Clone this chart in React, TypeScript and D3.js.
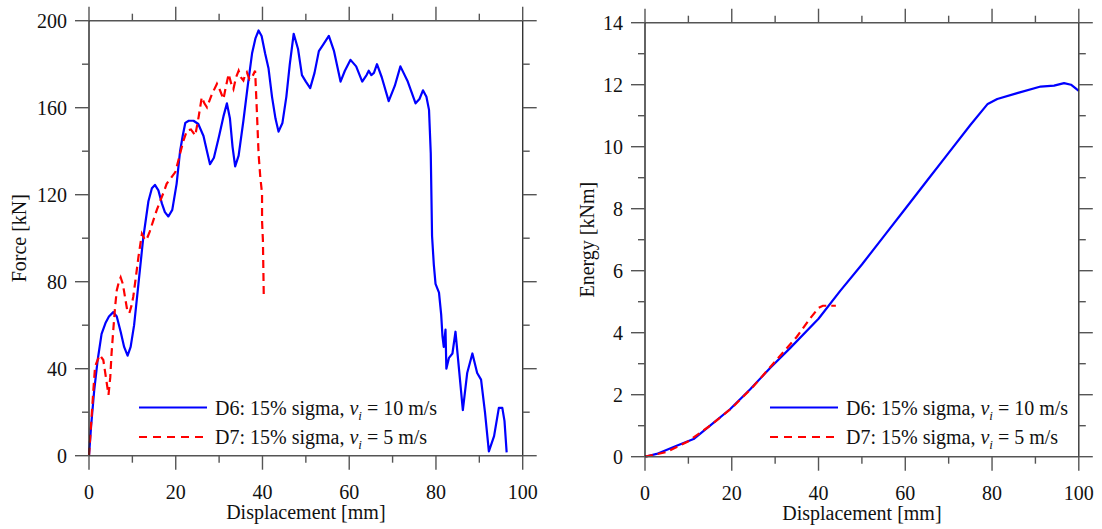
import React from "react";
import * as d3 from "d3";

// ---------- DATA ----------
const forceD6: [number, number][] = [
  [0, 0], [0.5, 14], [1.2, 30], [2, 44], [2.9, 56], [3.8, 61], [4.6, 64], [5.6, 66], [6.4, 64], [7.3, 57],
  [8.1, 50], [8.9, 46], [9.6, 50], [10.4, 60], [11.4, 79], [12.5, 100], [13.7, 117], [14.5, 123], [15.2, 124.5],
  [16, 122], [16.8, 116], [17.5, 112], [18.3, 110], [19.2, 113], [20.2, 125], [21, 140], [21.6, 147], [22.2, 153],
  [23, 154], [24.1, 154], [25.2, 152.5], [26.4, 147], [27.2, 140], [27.9, 134], [28.8, 137], [30, 147], [31, 156],
  [31.8, 162], [32.5, 155], [33.1, 142], [33.7, 133], [34.5, 138], [35.6, 154], [36.6, 170], [37.6, 185], [38.4, 192],
  [39.1, 195.5], [39.8, 193], [40.6, 185], [41.4, 178], [42.2, 165], [43, 155], [43.7, 149], [44.6, 153], [45.5, 165],
  [46.3, 180], [47.2, 194], [48.2, 187], [49.1, 175], [50, 172], [51, 169], [52, 176], [53, 186], [54, 189],
  [55.3, 193], [56.5, 186], [58, 172], [59, 177], [60.3, 182], [61.6, 179], [63, 172], [64, 175], [64.5, 177],
  [65.1, 175], [65.7, 176], [66.4, 180], [67.5, 174], [69.1, 163], [70.5, 170], [71.8, 179], [73.5, 172],
  [75.3, 162], [76.2, 164], [77, 168], [77.8, 165], [78.4, 159], [78.8, 139], [79.1, 101], [79.5, 88], [79.9, 79],
  [80.7, 75], [81.2, 65], [81.5, 55], [81.8, 50], [82.2, 58], [82.4, 40], [83, 45], [83.8, 47], [84.5, 57],
  [85.3, 40], [86.2, 21], [87.2, 38], [88.4, 47], [89.5, 38], [90.4, 35], [91.3, 20], [92.2, 2], [93.4, 9],
  [94.5, 22], [95.3, 22], [95.8, 16], [96.3, 1.5],
];

const forceD7: [number, number][] = [
  [0, 0], [0.5, 15], [1, 30], [1.4, 41], [2, 44], [2.5, 46.3], [3.3, 44], [3.9, 36], [4.5, 28], [4.9, 36],
  [5.2, 47], [5.6, 57.8], [6, 68], [6.4, 76], [6.9, 80], [7.3, 82], [7.8, 79], [8.3, 73], [8.8, 67], [9.3, 65.5],
  [9.8, 69], [10.2, 73], [10.8, 82], [11.4, 91.4], [12.2, 102], [12.7, 100], [13.2, 99], [14, 103], [14.8, 108],
  [15.6, 112.8], [16.4, 117], [17.2, 121], [17.9, 125], [19, 128], [19.9, 130.4], [21, 138.8], [21.8, 145],
  [22.6, 149.5], [23.5, 150], [24.5, 147.2], [25.3, 156], [26, 164.8], [26.6, 162], [27.2, 160.2], [28.3, 166],
  [29.5, 171], [30.2, 168], [31, 164], [31.6, 170], [32.2, 175.5], [32.8, 171], [33.3, 168.6], [33.9, 174],
  [34.5, 177], [35, 174], [35.6, 172.5], [36, 175], [36.4, 176.3], [37, 173], [37.6, 174], [38.3, 177],
  [38.7, 158.7], [39.1, 138.8], [39.5, 128], [39.9, 120.5], [39.9, 108], [40.1, 99], [40.3, 73],
];

const energyD6: [number, number][] = [
  [0, 0], [2.7, 0.09], [7.3, 0.35], [11.2, 0.57], [15, 1.0], [19.6, 1.53], [24.2, 2.17], [28.9, 2.87],
  [33.5, 3.51], [40, 4.45], [45, 5.35], [50, 6.2], [55, 7.1], [60, 8.0], [65, 8.9], [70, 9.8], [75, 10.7],
  [79, 11.38], [81.2, 11.54], [85.8, 11.73], [91.2, 11.94], [94.3, 11.97], [96.6, 12.05], [98.2, 12.0], [100, 11.8],
];

const energyD7: [number, number][] = [
  [0, 0], [5, 0.15], [10, 0.5], [15, 1.0], [20, 1.57], [25, 2.27], [30, 3.07], [35, 3.87], [38, 4.45],
  [40, 4.8], [41, 4.87], [44, 4.87],
];

const forceXTicks = [0, 20, 40, 60, 80, 100];
const forceYTicks = [0, 40, 80, 120, 160, 200];
const energyXTicks = [0, 20, 40, 60, 80, 100];
const energyYTicks = [0, 2, 4, 6, 8, 10, 12, 14];

const legendD6 = { pre: "D6: 15% sigma, ", post: " = 10 m/s" };
const legendD7 = { pre: "D7: 15% sigma, ", post: " = 5 m/s" };

// ---------- DRAWING ----------
const FONT = "'Liberation Serif', 'Times New Roman', serif";
const AX = "#555";
const MAJ = 14;
const MIN = 7;

type PanelProps = {
  x0: number; x1: number; yTop: number; yBot: number;
  xDomain: [number, number]; yDomain: [number, number];
  xTicks: number[]; yTicks: number[];
  xMinorStep: number; yMinorStep: number;
  yTitle: string; yTitleX: number;
  blue: [number, number][]; red: [number, number][];
  legendX: number;
};

function Panel(p: PanelProps) {
  const xs = d3.scaleLinear().domain(p.xDomain).range([p.x0, p.x1]);
  const ys = d3.scaleLinear().domain(p.yDomain).range([p.yBot, p.yTop]);
  const line = d3.line<[number, number]>().x((d) => xs(d[0])).y((d) => ys(d[1]));
  const xMinor = d3.range(p.xDomain[0], p.xDomain[1] + 1e-9, p.xMinorStep).filter((v) => !p.xTicks.includes(+v.toFixed(6)));
  const yMinor = d3.range(p.yDomain[0], p.yDomain[1] + 1e-9, p.yMinorStep).filter((v) => !p.yTicks.includes(+v.toFixed(6)));
  const ticks: JSX.Element[] = [];
  const addX = (v: number, len: number, k: string) => {
    const x = xs(v);
    ticks.push(<line key={"xb" + k} x1={x} x2={x} y1={p.yBot} y2={p.yBot + len} />);
    ticks.push(<line key={"xt" + k} x1={x} x2={x} y1={p.yTop} y2={p.yTop - len} />);
  };
  const addY = (v: number, len: number, k: string) => {
    const y = ys(v);
    ticks.push(<line key={"yl" + k} x1={p.x0} x2={p.x0 - len} y1={y} y2={y} />);
    ticks.push(<line key={"yr" + k} x1={p.x1} x2={p.x1 + len} y1={y} y2={y} />);
  };
  p.xTicks.forEach((v, i) => addX(v, MAJ, "M" + i));
  xMinor.forEach((v, i) => addX(v, MIN, "m" + i));
  p.yTicks.forEach((v, i) => addY(v, MAJ, "M" + i));
  yMinor.forEach((v, i) => addY(v, MIN, "m" + i));
  const lx = p.legendX;
  const ly1 = 407.5;
  const ly2 = 437;
  const midX = (p.x0 + p.x1) / 2;
  const midY = (p.yTop + p.yBot) / 2;
  const legText = (t: { pre: string; post: string }, y: number) => (
    <text x={lx + 76} y={y + 7} fontSize={20} fontFamily={FONT} fill="#111">
      {t.pre}
      <tspan fontStyle="italic">v</tspan>
      <tspan fontStyle="italic" fontSize={13} dy={5}>i</tspan>
      <tspan dy={-5}>{t.post}</tspan>
    </text>
  );
  return (
    <g>
      <path d={line(p.blue) || ""} fill="none" stroke="#0000ff" strokeWidth={2.2} strokeLinejoin="round" />
      <path d={line(p.red) || ""} fill="none" stroke="#ff0000" strokeWidth={2.2} strokeDasharray="8,5" />
      <g stroke={AX} strokeWidth={1.4}>
        <line x1={p.x0} x2={p.x1} y1={p.yTop} y2={p.yTop} />
        <line x1={p.x0} x2={p.x1} y1={p.yBot} y2={p.yBot} />
        <line x1={p.x0} x2={p.x0} y1={p.yTop} y2={p.yBot} stroke="#222" />
        <line x1={p.x1} x2={p.x1} y1={p.yTop} y2={p.yBot} stroke="#333" />
        {ticks}
      </g>
      <g fontFamily={FONT} fontSize={20} fill="#111">
        {p.xTicks.map((v) => (
          <text key={"xl" + v} x={xs(v)} y={p.yBot + 43} textAnchor="middle">{v}</text>
        ))}
        {p.yTicks.map((v) => (
          <text key={"yl" + v} x={p.x0 - 22} y={ys(v) + 7} textAnchor="end">{v}</text>
        ))}
        <text x={midX} y={p.yBot + 63} textAnchor="middle">Displacement [mm]</text>
        <text transform={`translate(${p.yTitleX},${midY}) rotate(-90)`} textAnchor="middle">{p.yTitle}</text>
      </g>
      <line x1={lx} x2={lx + 68} y1={ly1} y2={ly1} stroke="#0000ff" strokeWidth={2.2} />
      <line x1={lx} x2={lx + 68} y1={ly2} y2={ly2} stroke="#ff0000" strokeWidth={2.2} strokeDasharray="8,6" />
      {legText(legendD6, ly1)}
      {legText(legendD7, ly2)}
    </g>
  );
}

export default function App() {
  return (
    <svg width={1102} height={529} style={{ position: "absolute", left: 0, top: 0, background: "#fff" }}>
      <rect width={1102} height={529} fill="#fff" />
      <Panel x0={89} x1={522.7} yTop={20.7} yBot={455.7} xDomain={[0, 100]} yDomain={[0, 200]}
        xTicks={forceXTicks} yTicks={forceYTicks} xMinorStep={10} yMinorStep={20}
        yTitle="Force [kN]" yTitleX={26} blue={forceD6} red={forceD7} legendX={139} />
      <Panel x0={645} x1={1078.8} yTop={22.7} yBot={456.7} xDomain={[0, 100]} yDomain={[0, 14]}
        xTicks={energyXTicks} yTicks={energyYTicks} xMinorStep={10} yMinorStep={1}
        yTitle="Energy [kNm]" yTitleX={594} blue={energyD6} red={energyD7} legendX={770} />
    </svg>
  );
}
